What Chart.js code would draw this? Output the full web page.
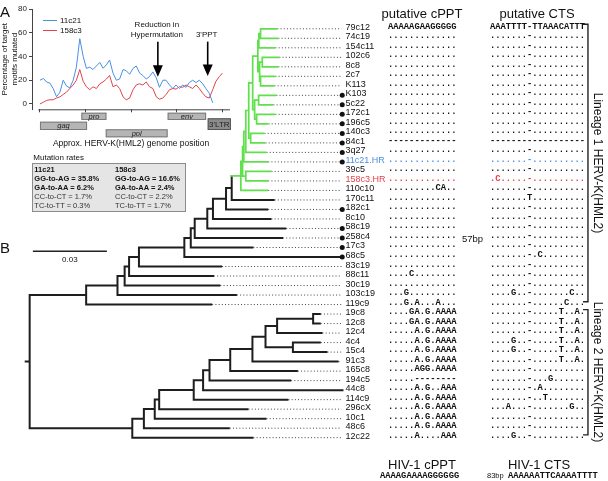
<!DOCTYPE html>
<html>
<head>
<meta charset="utf-8">
<title>HERV-K(HML2) hypermutation and phylogeny</title>
<script src="https://cdn.jsdelivr.net/npm/chart.js@4.4.1/dist/chart.umd.min.js"></script>
<style>
  html, body { margin: 0; padding: 0; background: #fff; }
  #fig { position: relative; width: 608px; height: 481px; overflow: hidden;
         font-family: "Liberation Sans", Arial, sans-serif; color: #111; }
  canvas { position: absolute; left: 0; top: 0; }
  .t { position: absolute; white-space: nowrap; }
  .mid { transform: translateX(-50%); }
  .leaf { font-size: 9px; }
  .seq { font-family: "Liberation Mono", "Courier New", monospace; font-weight: bold; font-size: 8.8px; }
  .head { font-size: 13px; }
  .panel { font-size: 15px; }
  .small { font-size: 8px; }
  .rate { font-size: 7.5px; color: #333; }
  .rate.b { font-weight: bold; color: #111; }
  #rates { position: absolute; left: 31.5px; top: 162.5px; width: 152px; height: 47px;
           background: #e5e5e5; border: 1px solid #8c8c8c; }
  .lineage { position: absolute; font-size: 12px; line-height: 13px; white-space: nowrap;
             transform: translate(-50%, -50%) rotate(90deg); }
</style>
</head>
<body>
<div id="fig">
  <div id="rates"></div>
  <canvas id="tree" width="608" height="481"></canvas>
  <canvas id="inset" width="240" height="150"></canvas>
</div>
<script>
// === Panel A data: % of target motifs mutated along the genome ===
const genomeKb = [0, 0.15, 0.29, 0.44, 0.58, 0.73, 0.88, 1.02, 1.17, 1.31, 1.46, 1.60, 1.75, 1.90,
  2.04, 2.19, 2.33, 2.48, 2.63, 2.77, 2.92, 3.06, 3.21, 3.36, 3.50, 3.65, 3.79, 3.94, 4.09, 4.23,
  4.38, 4.52, 4.67, 4.81, 4.96, 5.11, 5.25, 5.40, 5.54, 5.69, 5.84, 5.98, 6.13, 6.27, 6.42, 6.56,
  6.71, 6.86, 7.00, 7.15, 7.29, 7.44, 7.59, 7.73, 7.88, 8.02];
const motifs11c21 = [20, 21.5, 18.5, 17.5, 13, 6, 10, 20, 15, 13.5, 20, 31, 55, 40, 30, 31, 29, 32,
  35, 30, 33, 37, 26, 20, 21, 29, 28, 25, 30, 32, 26, 24, 21, 23, 27, 22, 14, 20, 20, 16, 13, 16,
  13, 16, 14, 18, 20, 18, 20, 17, 13, 9, 1, null, null, null];
const motifs158c3 = [0, 1.5, 3, 3.5, 3.5, 5, 6, 8, 10, 13, 16, 20, 29, 19, 14.5, 12, 14.5, 13, 17,
  18.5, 21, 24, 14.5, 16, 13, 6, 3.5, 5, 12, 16, 17, 16, 18.5, 14.5, 13, 6, 4, 5, 8, 12, 13, 12.5,
  14.5, 14, 16, 14.5, 13, 16, 13, 9, 6, 5, 12, 19, 23, 26];
const yTicks = [0, 20, 40, 60, 80];
const xTicksKb = [0, 2, 4, 6, 8];

// genes under the axis (kb)
const geneNames = ['gag', 'pro', 'pol', 'env', "3'LTR"];
const geneStart = [0, 1.82, 2.89, 5.61, 7.37];
const geneEnd = [2.07, 2.92, 5.61, 7.30, 8.39];

// annotation arrows (kb, from % to %)
const arrowLabels = [['Reduction in', 'Hypermutation'], ["3'PPT"]];
const arrowKb = [5.18, 7.37];
const arrowFrom = [52.5, 52.5];
const arrowTo = [23, 23.5];

// mutation rate table
const rateSamples = ['11c21', '158c3'];
const rateMotifs = ['GG-to-AG', 'GA-to-AA', 'CC-to-CT', 'TC-to-TT'];
const rates11c21 = [35.8, 6.2, 1.7, 0.3];
const rates158c3 = [16.6, 2.4, 2.2, 1.7];

// === Panel B data: tree ===
const leafNames = ['79c12', '74c19', '154c11', '102c6', '8c8', '2c7', 'K113', 'K103', '5c22', '172c1',
  '196c5', '140c3', '84c1', '3q27', '11c21.HR', '39c5', '158c3.HR', '110c10', '170c11', '182c1',
  '8c10', '58c19', '258c4', '17c3', '68c5', '83c19', '88c11', '30c19', '103c19', '119c9',
  '19c8', '12c8', '12c4', '4c4', '15c4', '91c3', '165c8', '194c5', '44c8', '114c9', '296cX',
  '10c1', '48c6', '12c22'];
// distance from root to each tip (substitutions/site)
const leafTips = [0.1000, 0.1004, 0.0992, 0.1008, 0.1004, 0.0992, 0.0988, 0.0996, 0.0984, 0.0992,
  0.0964, 0.0948, 0.0952, 0.0956, 0.0963, 0.0976, 0.0963, 0.0963, 0.0989, 0.0963,
  0.0976, 0.1036, 0.1023, 0.0903, 0.1260, 0.0776, 0.0743, 0.0769, 0.0836, 0.0736,
  0.1176, 0.1176, 0.1183, 0.1176, 0.1203, 0.1248, 0.1083, 0.1056, 0.1268, 0.1045, 0.0883,
  0.0956, 0.0807, 0.0903];
const dottedLeaves = ['K103', '5c22', '172c1', '196c5', '140c3', '84c1', '3q27', '11c21.HR',
  '182c1', '58c19', '258c4', '17c3', '68c5'];
// internal nodes: [id, depth, child, child]
const cladeNodes = [
  ['gA', 0.0936, '79c12', '74c19'], ['gB', 0.0929, 'gA', '154c11'],
  ['gC', 0.0943, '102c6', '8c8'], ['gD', 0.0936, '2c7', 'K113'],
  ['gE', 0.0932, 'gC', 'gD'], ['gF', 0.0925, 'gB', 'gE'],
  ['gG', 0.0928, 'K103', '5c22'], ['gH', 0.0920, '172c1', '196c5'],
  ['gI', 0.0912, 'gG', 'gH'], ['gJ', 0.0904, 'gF', 'gI'],
  ['gK', 0.0896, '140c3', '84c1'], ['gL', 0.0888, 'gJ', 'gK'],
  ['gM', 0.0876, 'gL', '3q27'], ['g2', 0.0868, 'gM', '11c21.HR'],
  ['gN', 0.0876, '39c5', '158c3.HR'], ['g1', 0.0863, 'g2', 'gN'],
  ['gR', 0.0856, 'g1', '110c10'],
  ['Ng', 0.0819, 'gR', '170c11'], ['Nf', 0.0796, 'Ng', '182c1'],
  ['Ne', 0.0743, 'Nf', '8c10'], ['Nd', 0.0720, 'Ne', '58c19'],
  ['Nc', 0.0669, 'Nd', '258c4'], ['Nb', 0.0653, 'Nc', '17c3'],
  ['Na', 0.0627, 'Nb', '68c5'], ['Nh', 0.0443, 'Na', '83c19'],
  ['Ni', 0.0403, 'Nh', '88c11'], ['Nj', 0.0385, 'Ni', '30c19'],
  ['Nk', 0.0356, 'Nj', '103c19'], ['Nl', 0.0229, 'Nk', '119c9'],
  ['Ny', 0.1149, '19c8', '12c8'], ['Nw', 0.1003, 'Ny', '12c4'],
  ['Nx', 0.1067, '4c4', '15c4'], ['Nv', 0.0956, 'Nw', 'Nx'],
  ['Nu', 0.0903, 'Nv', '91c3'], ['Nt', 0.0813, 'Nu', '165c8'],
  ['Ns', 0.0729, 'Nt', '194c5'], ['Nr', 0.0703, 'Ns', '44c8'],
  ['Nq', 0.0665, 'Nr', '114c9'], ['Np', 0.0525, 'Nq', '296cX'],
  ['No', 0.0507, 'Np', '10c1'], ['Nn', 0.0463, 'No', '48c6'],
  ['Nm', 0.0416, 'Nn', '12c22'], ['root', 0, 'Nl', 'Nm']
];
const greenClade = 'gR';
const scaleBar = 0.03;
const lineageNames = ['Lineage 1 HERV-K(HML2)', 'Lineage 2 HERV-K(HML2)'];
const lineageFirst = ['79c12', '19c8'];
const lineageLast = ['119c9', '12c22'];

// alignments
const cpptRows = ['AAAAAGAAGGGGG', '.............', '.............', '.............', '.............',
  '.............', '.............', '.............', '.............', '.............', '.............',
  '.............', '-------------', '.............', '.............', '.............', '.............',
  '.........CA..', '.............', '.............', '.............', '.............', '.............',
  '.............', '.............', '.............', '....C........', '.............', '...G.........',
  '...G.A...A...', '....GA.G.AAAA', '....GA.G.AAAA', '.....A.G.AAAA', '.....A.G.AAAA', '.....A.G.AAAA',
  '.....A.G.AAAA', '.....AGG.AAAA', '.....--------', '.....A.G..AAA', '.....A.G.AAAA', '.....A.G.AAAA',
  '.....A.G.AAAA', '.....A.G.AAAA', '.....A....AAA'];
const ctsRows = ['AAATTTT-TTAAACATTT', '.......-..........', '.......-..........', '.......-..........',
  '.......-..........', '.......-..........', '.......-..........', '.......-..........', '.......-..........',
  '.......-..........', '.......-..........', '.......-..........', '------------------', '.......-..........',
  '.......-..........', '.......-..........', '.C.....-..........', '.......-..........', '.......T..........',
  '.......-..........', '.......-..........', '.......-..........', '.......-..........', '.......-..........',
  '.......-.C........', '.......-..........', '.......-..........', '.......-..........', '....G..-.......C..',
  '.......-......C...', '.......-.....T..A.', '.......-.....T..A.', '.......-.....T..A.', '....G..-.....T..A.',
  '....G..-.....T..A.', '.......-.....T..A.', '.......-..........', '.......-...G......', '.......-.A........',
  '.......-..T.......', '...A...-.......G..', '.......-..........', '.......-..........', '....G..-..........'];
const hivCppt = 'AAAAGAAAAGGGGGG';
const hivCts = 'AAAAAATTCAAAATTTT';
const spacerCts = '57bp';
const spacerHiv = '83bp';

const BLUE = '#4a8fe3';
const RED = '#e5414b';
const GREEN = '#5fe04c';
Chart.defaults.font.family = '"Liberation Sans", Arial, sans-serif';

// === Tree geometry ===
const rowOf = {};
const depthOf = {};
const kidsOf = {};
leafNames.forEach((n, i) => { rowOf[n] = i; depthOf[n] = leafTips[i]; });
cladeNodes.forEach(([id, d, a, b]) => { depthOf[id] = d; kidsOf[id] = [a, b]; });

function rowY(id) {
  if (id in rowOf) return rowOf[id];
  const [a, b] = kidsOf[id];
  return (rowY(a) + rowY(b)) / 2;
}

const inGreen = new Set();
(function mark(id) { inGreen.add(id); (kidsOf[id] || []).forEach(mark); })(greenClade);

const gap = { x: null, y: null };
const blackPts = [], greenPts = [], leaderPts = [], dotPts = [], markPts = [];
function seg(arr, x1, y1, x2, y2) { arr.push({ x: x1, y: y1 }, { x: x2, y: y2 }, gap); }

cladeNodes.forEach(([id, d, a, b]) => {
  seg(inGreen.has(id) ? greenPts : blackPts, d, rowY(a), d, rowY(b));
  [a, b].forEach(k => seg(inGreen.has(k) ? greenPts : blackPts, d, rowY(k), depthOf[k], rowY(k)));
});
seg(blackPts, -0.0016, rowY('root'), 0, rowY('root'));

const labelDepth = 0.1264;
leafNames.forEach((n, i) => {
  if (leafTips[i] < labelDepth - 0.001) seg(leaderPts, leafTips[i] + 0.0004, i, labelDepth, i);
});
dottedLeaves.forEach(n => dotPts.push({ x: labelDepth + 0.0003, y: rowOf[n] }));

// scale bar + lineage brackets
const barRow = 23.4;
seg(markPts, 0.0013, barRow, 0.0013 + scaleBar, barRow);
const bracketDepth = 0.2263;
lineageFirst.forEach((f, i) => {
  const top = rowOf[f] - 0.47, bot = rowOf[lineageLast[i]] - 0.3;
  markPts.push({ x: bracketDepth - 0.002, y: top }, { x: bracketDepth, y: top },
    { x: bracketDepth, y: bot }, { x: bracketDepth - 0.002, y: bot }, gap);
});

const lineStyle = { showLine: true, pointRadius: 0, spanGaps: false };
const treeChart = new Chart(document.getElementById('tree'), {
  type: 'scatter',
  data: {
    datasets: [
      { data: dotPts, showLine: false, pointRadius: 2.5, pointBackgroundColor: '#111', pointBorderWidth: 0 },
      { data: greenPts, ...lineStyle, borderColor: GREEN, borderWidth: 1.7, borderCapStyle: 'square' },
      { data: blackPts, ...lineStyle, borderColor: '#1e1e1e', borderWidth: 2, borderCapStyle: 'square' },
      { data: markPts, ...lineStyle, borderColor: '#222', borderWidth: 1.4 },
      { data: leaderPts, ...lineStyle, borderColor: '#444', borderWidth: 1, borderDash: [1, 2.2] }
    ]
  },
  options: {
    responsive: false, animation: false, events: [],
    layout: { padding: 0 },
    plugins: { legend: { display: false }, tooltip: { enabled: false } },
    scales: {
      x: { type: 'linear', display: false, min: -0.0104, max: 0.2328 },
      y: { type: 'linear', display: false, reverse: true, min: -2.606, max: 47.135 }
    }
  }
});

// === Panel A chart ===
const genePlugin = {
  id: 'genes',
  afterDraw(chart) {
    const { ctx, chartArea, scales: { x, y } } = chart;
    const base = chartArea.bottom;
    ctx.save();
    // detached x axis line
    ctx.strokeStyle = '#444';
    ctx.lineWidth = 1;
    ctx.beginPath();
    ctx.moveTo(x.getPixelForValue(-0.07), base + 0.5);
    ctx.lineTo(chartArea.right, base + 0.5);
    ctx.stroke();

    const lane = { gag: [12.4, 8.3], pro: [3.4, 7.3], pol: [20, 8], env: [3.4, 7.3], "3'LTR": [9, 11.7] };
    geneNames.forEach((g, i) => {
      const x0 = x.getPixelForValue(geneStart[i]);
      const x1 = x.getPixelForValue(geneEnd[i]);
      const [off, h] = lane[g];
      const ltr = g === "3'LTR";
      ctx.fillStyle = ltr ? '#8c8c8c' : '#b5b5b5';
      ctx.strokeStyle = ltr ? '#555' : '#7a7a7a';
      ctx.fillRect(x0, base + off, x1 - x0, h);
      ctx.strokeRect(x0 + 0.5, base + off + 0.5, x1 - x0 - 1, h - 1);
      ctx.fillStyle = '#222';
      ctx.font = (ltr ? '' : 'italic ') + (ltr ? '8px' : '7.5px') + ' "Liberation Sans", Arial, sans-serif';
      ctx.textAlign = 'center';
      ctx.textBaseline = 'middle';
      ctx.fillText(g, (x0 + x1) / 2, base + off + h / 2 + 0.5);
    });

    // arrows
    ctx.fillStyle = '#000';
    ctx.strokeStyle = '#000';
    ctx.lineWidth = 1.6;
    arrowKb.forEach((k, i) => {
      const ax = x.getPixelForValue(k);
      const y0 = y.getPixelForValue(arrowFrom[i]);
      const y1 = y.getPixelForValue(arrowTo[i]);
      ctx.beginPath();
      ctx.moveTo(ax, y0);
      ctx.lineTo(ax, y1 - 8);
      ctx.stroke();
      ctx.beginPath();
      ctx.moveTo(ax - 5, y1 - 11.5);
      ctx.lineTo(ax + 5, y1 - 11.5);
      ctx.lineTo(ax, y1);
      ctx.closePath();
      ctx.fill();
    });
    ctx.restore();
  }
};

const inset = new Chart(document.getElementById('inset'), {
  type: 'line',
  data: {
    datasets: [
      { label: rateSamples[0], data: genomeKb.map((k, i) => ({ x: k, y: motifs11c21[i] })),
        borderColor: BLUE, borderWidth: 1, pointRadius: 0, spanGaps: false },
      { label: rateSamples[1], data: genomeKb.map((k, i) => ({ x: k, y: motifs158c3[i] })),
        borderColor: RED, borderWidth: 1, pointRadius: 0, spanGaps: false }
    ]
  },
  options: {
    responsive: false, animation: false, events: [],
    layout: { padding: { top: 9, right: 10, left: 0, bottom: 0 } },
    plugins: { legend: { display: false }, tooltip: { enabled: false } },
    scales: {
      x: {
        type: 'linear', min: -0.35, max: 8.35,
        afterBuildTicks: s => { s.ticks = xTicksKb.map(v => ({ value: v })); },
        afterFit: s => { s.height = 40.7; },
        border: { display: false },
        grid: { drawOnChartArea: false, drawTicks: true, tickLength: 3, color: '#444' },
        ticks: { callback: () => '' },
        title: { display: true, text: 'Approx. HERV-K(HML2) genome position', color: '#111',
                 font: { size: 8.5 }, padding: { top: 0, bottom: 1 } }
      },
      y: {
        type: 'linear', min: -4.5, max: 80,
        afterBuildTicks: s => { s.ticks = yTicks.map(v => ({ value: v })); },
        afterFit: s => { s.width = 32; },
        border: { display: true, color: '#444', width: 1 },
        grid: { drawOnChartArea: false, tickLength: 3, color: '#444' },
        ticks: { font: { size: 8 }, color: '#222', padding: 2 },
        title: { display: true, text: ['Percentage of target', 'motifs mutated'], color: '#111',
                 font: { size: 8 }, padding: 0 }
      }
    }
  },
  plugins: [genePlugin]
});

// === Text (HTML) ===
const fig = document.getElementById('fig');
function addText(text, x, cy, cls, lh, style = {}) {
  const el = document.createElement('div');
  el.className = 't ' + cls;
  el.textContent = text;
  el.style.left = x + 'px';
  el.style.top = (cy - lh / 2) + 'px';
  el.style.lineHeight = lh + 'px';
  Object.assign(el.style, style);
  fig.appendChild(el);
  return el;
}

addText('A', 0, 12, 'panel', 16);
addText('B', 0, 248, 'panel', 16);

// legend
[BLUE, RED].forEach((c, i) => {
  const ln = document.createElement('div');
  Object.assign(ln.style, { position: 'absolute', left: '43px', top: (20 + i * 10) + 'px',
    width: '14px', height: '1.3px', background: c });
  fig.appendChild(ln);
  addText(rateSamples[i], 60, 20.7 + i * 10, 'small', 10);
});

// arrow labels
const xa = inset.scales.x;
arrowLabels.forEach((lines, i) => {
  const cx = xa.getPixelForValue(arrowKb[i]) - 1;
  lines.forEach((l, j) => addText(l, cx, 34.3 - (lines.length - 1 - j) * 9.3, 'small mid', 9.3));
});

// mutation rates
addText('Mutation rates', 33.3, 157.7, 'small', 10);
const rateCols = [34.3, 115];
[rates11c21, rates158c3].forEach((vals, c) => {
  addText(rateSamples[c], rateCols[c], 169.3, 'rate b', 9);
  vals.forEach((v, r) => addText(rateMotifs[r] + ' = ' + v.toFixed(1) + '%', rateCols[c],
    178.4 + r * 9.1, r < 2 ? 'rate b' : 'rate', 9));
});

// leaf labels and alignments
const xs = treeChart.scales.x, ys = treeChart.scales.y;
const labelX = xs.getPixelForValue(labelDepth) + 4;
const colour = { '11c21.HR': BLUE, '158c3.HR': RED };
leafNames.forEach((n, i) => {
  const cy = ys.getPixelForValue(i) - 2;
  const col = colour[n] ? { color: colour[n] } : {};
  addText(n, labelX, cy, 'leaf', 10, col);
  addText(cpptRows[i], 388, cy, 'seq', 10, col);
  addText(ctsRows[i], 490, cy, 'seq', 10, col);
});

addText('putative cPPT', 422, 14, 'head mid', 14);
addText('putative CTS', 537, 14, 'head mid', 14);
addText(spacerCts, 462, 239, 'leaf', 10, { fontSize: '9.5px' });
addText('HIV-1 cPPT', 422, 465, 'head mid', 14);
addText('HIV-1 CTS', 539, 465, 'head mid', 14);
addText(hivCppt, 380, 476, 'seq', 10);
addText(spacerHiv, 487, 476, 'small', 10, { fontSize: '7.5px' });
addText(hivCts, 508, 476, 'seq', 10);

// scale bar label
addText(String(scaleBar), (xs.getPixelForValue(0.0013) + xs.getPixelForValue(0.0013 + scaleBar)) / 2,
  ys.getPixelForValue(barRow) + 8.5, 'small mid', 10);

// lineage labels
lineageNames.forEach((name, i) => {
  const el = document.createElement('div');
  el.className = 'lineage';
  el.textContent = name;
  const top = ys.getPixelForValue(rowOf[lineageFirst[i]] - 0.47);
  const bot = ys.getPixelForValue(rowOf[lineageLast[i]] - 0.3);
  el.style.left = (xs.getPixelForValue(bracketDepth) + 9) + 'px';
  el.style.top = ((top + bot) / 2) + 'px';
  fig.appendChild(el);
});
</script>
</body>
</html>
